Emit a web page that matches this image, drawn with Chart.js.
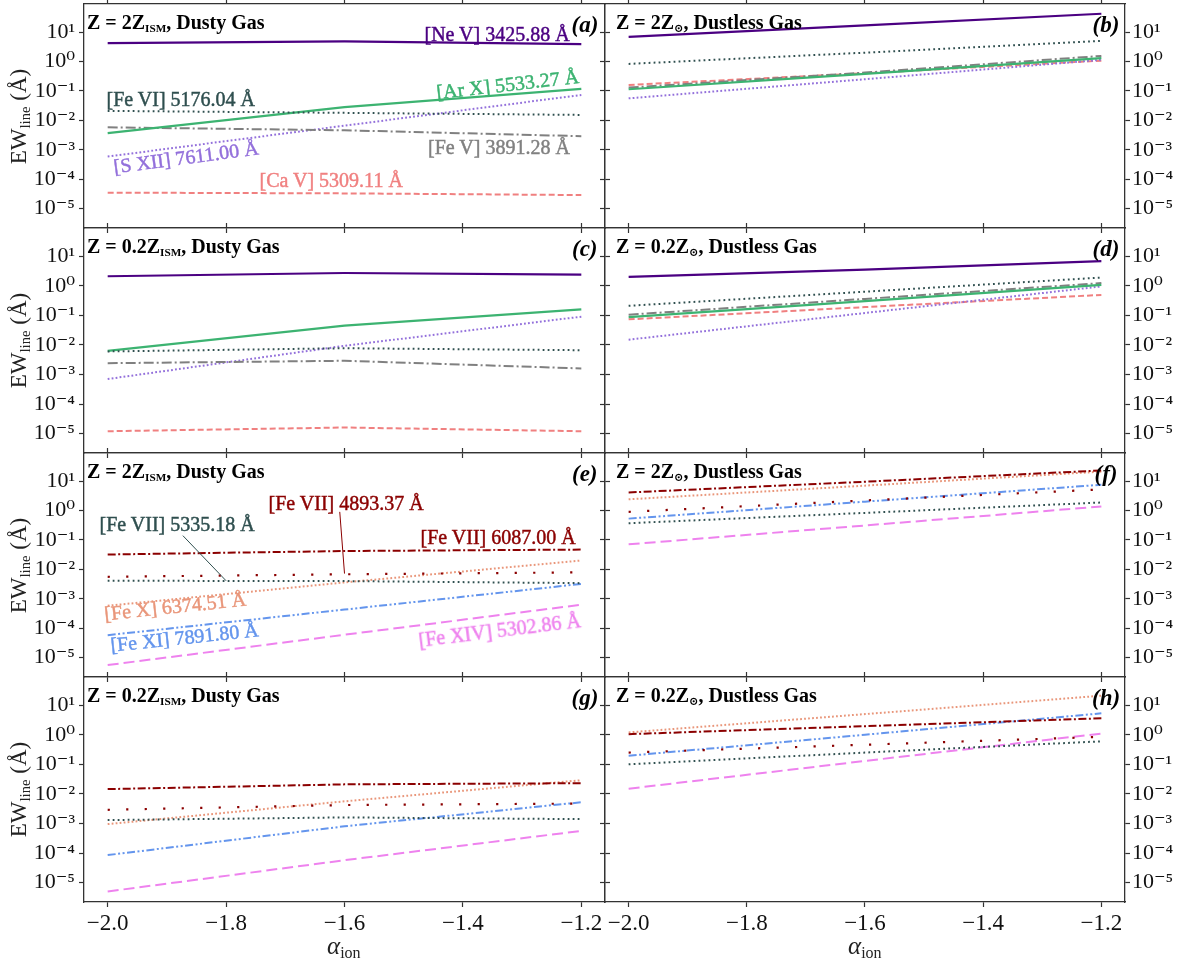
<!DOCTYPE html>
<html><head><meta charset="utf-8">
<script src="https://cdn.jsdelivr.net/npm/chart.js@4.4.1/dist/chart.umd.min.js"></script>
<style>
html,body{margin:0;padding:0;background:#fff;}
#wrap{position:relative;width:1178px;height:960px;overflow:hidden;background:#fff;}
canvas{position:absolute;}
.t{position:absolute;white-space:nowrap;line-height:1;font-family:'Liberation Serif','DejaVu Serif',serif;}
.ttl{font-weight:bold;font-size:20px;color:#000;}
.ttl sub{font-size:56%;}
.lbl{font-size:20px;-webkit-text-stroke:0.45px currentColor;}
.let{font-weight:bold;font-style:italic;font-size:23px;color:#000;}
sub{font-size:64%;vertical-align:-0.25em;line-height:0;}
</style></head><body><div id="wrap"></div>
<script>
// ---------------- data ----------------
const alphaIon = [-2.0, -1.6, -1.2];
const xTickValues = [-2.0, -1.8, -1.6, -1.4, -1.2];
const xTickLabels = ['\u22122.0', '\u22121.8', '\u22121.6', '\u22121.4', '\u22121.2'];
const yTickValues = [1e-5, 1e-4, 1e-3, 1e-2, 1e-1, 1e0, 1e1];
const yTickLabels = ['10\u207B\u2075', '10\u207B\u2074', '10\u207B\u00B3', '10\u207B\u00B2', '10\u207B\u00B9', '10\u2070', '10\u00B9'];

// (a) Z = 2Z_ISM, dusty
const a_NeV  = [4.2, 4.8, 3.9];
const a_FeVI = [0.021, 0.018, 0.0153];
const a_ArX  = [0.0037, 0.028, 0.117];
const a_FeV  = [0.0058, 0.0046, 0.0029];
const a_SXII = [0.00059, 0.0066, 0.073];
const a_CaV  = [3.5e-5, 3.3e-5, 2.9e-5];
// (b) Z = 2Z_sun, dustless
const b_NeV  = [6.9, 17, 42];
const b_FeVI = [0.83, 2.0, 5.0];
const b_ArX  = [0.114, 0.38, 1.3];
const b_FeV  = [0.13, 0.42, 1.55];
const b_SXII = [0.056, 0.25, 1.14];
const b_CaV  = [0.16, 0.40, 1.07];
// (c) Z = 0.2Z_ISM, dusty
const c_NeV  = [2.1, 2.7, 2.4];
const c_FeVI = [0.006, 0.0077, 0.0066];
const c_ArX  = [0.0063, 0.045, 0.16];
const c_FeV  = [0.0024, 0.0029, 0.0016];
const c_SXII = [0.0007, 0.0093, 0.09];
const c_CaV  = [1.2e-5, 1.6e-5, 1.2e-5];
// (d) Z = 0.2Z_sun, dustless
const d_NeV  = [2.0, 3.5, 6.8];
const d_FeVI = [0.21, 0.63, 1.9];
const d_ArX  = [0.087, 0.30, 1.08];
const d_FeV  = [0.105, 0.36, 1.23];
const d_SXII = [0.015, 0.12, 0.95];
const d_CaV  = [0.073, 0.19, 0.49];
// (e) Z = 2Z_ISM, dusty
const e_FeVII6087 = [0.032, 0.042, 0.047];
const e_FeVII4893 = [0.0056, 0.0068, 0.0079];
const e_FeVII5335 = [0.0041, 0.0040, 0.0034];
const e_FeX  = [0.00058, 0.0036, 0.020];
const e_FeXI = [5.8e-5, 4.3e-4, 0.0032];
const e_FeXIV = [5.6e-6, 6.0e-5, 6.3e-4];
// (f) Z = 2Z_sun, dustless
const f_FeVII6087 = [4.1, 9.5, 23];
const f_FeVII4893 = [0.9, 2.2, 5.2];
const f_FeVII5335 = [0.37, 0.83, 1.87];
const f_FeX  = [2.4, 7.0, 21];
const f_FeXI = [0.53, 2.0, 7.5];
const f_FeXIV = [0.071, 0.31, 1.37];
// (g) Z = 0.2Z_ISM, dusty
const g_FeVII6087 = [0.0145, 0.021, 0.023];
const g_FeVII4893 = [0.0029, 0.0042, 0.0047];
const g_FeVII5335 = [0.0013, 0.0016, 0.0014];
const g_FeX  = [0.00095, 0.0056, 0.029];
const g_FeXI = [8.5e-5, 8.0e-4, 0.0052];
const g_FeXIV = [5.0e-6, 5.7e-5, 5.6e-4];
// (h) Z = 0.2Z_sun, dustless
const h_FeVII6087 = [1.05, 1.95, 3.6];
const h_FeVII4893 = [0.25, 0.46, 0.85];
const h_FeVII5335 = [0.10, 0.25, 0.60];
const h_FeX  = [1.2, 5.0, 21];
const h_FeXI = [0.195, 1.0, 5.3];
const h_FeXIV = [0.015, 0.13, 1.1];

// ---------------- styles ----------------
const STY = {
  NeV:  {color:'#4B0082', width:2.2, dash:[]},
  FeVI: {color:'#2F4F4F', width:2, dash:[1.8, 3.2]},
  ArX:  {color:'#3CB371', width:2.2, dash:[]},
  FeV:  {color:'#808080', width:2, dash:[10, 3, 2, 3]},
  SXII: {color:'#9370DB', width:2, dash:[1.8, 2.2]},
  CaV:  {color:'#F08080', width:2, dash:[6, 3]},
  FeVII6087: {color:'#8B0000', width:2, dash:[8, 2.5, 2, 2.5]},
  FeVII4893: {color:'#8B0000', width:2.2, dash:[2.2, 16.3]},
  FeVII5335: {color:'#2F4F4F', width:2, dash:[1.8, 3.2]},
  FeX:  {color:'#E9967A', width:2, dash:[1.8, 2.2]},
  FeXI: {color:'#6495ED', width:2, dash:[8, 2.5, 2, 2.5, 2, 2.5]},
  FeXIV:{color:'#EE82EE', width:2, dash:[11, 5]}
};

const panels = [
  {id:'a', col:0, row:0, series:{NeV:a_NeV, FeVI:a_FeVI, ArX:a_ArX, FeV:a_FeV, SXII:a_SXII, CaV:a_CaV}},
  {id:'b', col:1, row:0, series:{NeV:b_NeV, FeVI:b_FeVI, ArX:b_ArX, FeV:b_FeV, SXII:b_SXII, CaV:b_CaV}},
  {id:'c', col:0, row:1, series:{NeV:c_NeV, FeVI:c_FeVI, ArX:c_ArX, FeV:c_FeV, SXII:c_SXII, CaV:c_CaV}},
  {id:'d', col:1, row:1, series:{NeV:d_NeV, FeVI:d_FeVI, ArX:d_ArX, FeV:d_FeV, SXII:d_SXII, CaV:d_CaV}},
  {id:'e', col:0, row:2, series:{FeVII6087:e_FeVII6087, FeVII4893:e_FeVII4893, FeVII5335:e_FeVII5335, FeX:e_FeX, FeXI:e_FeXI, FeXIV:e_FeXIV},
     annots:[{x0:-1.873, y0:0.14, x1:-1.80, y1:0.0041, color:'#2F4F4F'}, {x0:-1.608, y0:0.9, x1:-1.60, y1:0.0072, color:'#8B0000'}]},
  {id:'f', col:1, row:2, series:{FeVII6087:f_FeVII6087, FeVII4893:f_FeVII4893, FeVII5335:f_FeVII5335, FeX:f_FeX, FeXI:f_FeXI, FeXIV:f_FeXIV}},
  {id:'g', col:0, row:3, series:{FeVII6087:g_FeVII6087, FeVII4893:g_FeVII4893, FeVII5335:g_FeVII5335, FeX:g_FeX, FeXI:g_FeXI, FeXIV:g_FeXIV}},
  {id:'h', col:1, row:3, series:{FeVII6087:h_FeVII6087, FeVII4893:h_FeVII4893, FeVII5335:h_FeVII5335, FeX:h_FeX, FeXI:h_FeXI, FeXIV:h_FeXIV}}
];

// ---------------- layout ----------------
const colX = [84, 605];         // panel left edges
const colW = [521, 520];
const rowY = [4, 228, 453, 677];
const rowH = [224, 225, 224, 225];
const YMIN = 2.2e-6, YMAX = 90;
const XMIN = -2.04, XMAX = -1.16;
const FONT = "'Liberation Serif','DejaVu Serif',serif";
const AX = '#333333';
const TICK = 5;

const wrap = document.getElementById('wrap');

const annotPlugin = {
  id: 'annot',
  afterDatasetsDraw(chart, args, opts) {
    const list = opts.lines || [];
    const ctx = chart.ctx, xs = chart.scales.x, ys = chart.scales.y;
    ctx.save();
    list.forEach(l => {
      ctx.beginPath();
      ctx.strokeStyle = l.color; ctx.lineWidth = 1; ctx.setLineDash([]);
      ctx.moveTo(xs.getPixelForValue(l.x0), ys.getPixelForValue(l.y0));
      ctx.lineTo(xs.getPixelForValue(l.x1), ys.getPixelForValue(l.y1));
      ctx.stroke();
    });
    ctx.restore();
  }
};

function fixSize(size, horiz) {
  return function(s) {
    if (horiz) { s.height = size; s.paddingLeft = 0; s.paddingRight = 0; }
    else { s.width = size; s.paddingTop = 0; s.paddingBottom = 0; }
  };
}

panels.forEach(p => {
  const isLeft = p.col === 0, isBottom = p.row === 3;
  const leftW = isLeft ? 84 : 6;
  const rightW = isLeft ? 6 : 53;
  const topH = 6;
  const botH = isBottom ? 50 : 6;
  const cw = leftW + colW[p.col] + rightW;
  const ch = topH + rowH[p.row] + botH;
  const cv = document.createElement('canvas');
  cv.width = cw; cv.height = ch;
  cv.style.left = (colX[p.col] - leftW) + 'px';
  cv.style.top = (rowY[p.row] - topH) + 'px';
  cv.style.width = cw + 'px'; cv.style.height = ch + 'px';
  wrap.appendChild(cv);

  const datasets = Object.keys(p.series).map(k => ({
    label: k,
    data: alphaIon.map((x, i) => ({x: x, y: p.series[k][i]})),
    borderColor: STY[k].color,
    borderWidth: STY[k].width,
    borderDash: STY[k].dash,
    borderCapStyle: 'butt',
    pointRadius: 0,
    fill: false,
    tension: 0,
    xAxisID: 'x', yAxisID: 'y'
  }));

  const gridCfg = {drawOnChartArea:false, drawTicks:true, tickLength:TICK, color:AX, tickColor:AX, tickWidth:1.2};
  const borderCfg = {display:true, color:AX, width:1.3};
  const xticks = s => { s.ticks = xTickValues.map(v => ({value:v})); };
  const yticks = s => { s.ticks = yTickValues.map(v => ({value:v})); };

  new Chart(cv, {
    type: 'line',
    data: {datasets},
    plugins: [annotPlugin],
    options: {
      responsive: false, maintainAspectRatio: false, animation: false,
      devicePixelRatio: 1,
      layout: {padding: 0},
      plugins: {legend:{display:false}, tooltip:{enabled:false}, title:{display:false},
                annot: {lines: p.annots || []}},
      scales: {
        x: {type:'linear', position:'bottom', min:XMIN, max:XMAX,
            afterBuildTicks: xticks,
            ticks: {display:isBottom, autoSkip:false, maxRotation:0, padding:3, color:'#111',
                    font:{family:FONT, size:23},
                    callback: v => { const i = xTickValues.findIndex(t => Math.abs(t - v) < 1e-9); return i >= 0 ? xTickLabels[i] : ''; }},
            grid: gridCfg, border: borderCfg, afterFit: fixSize(botH, true)},
        xTop: {type:'linear', position:'top', min:XMIN, max:XMAX,
            afterBuildTicks: xticks,
            ticks: {display:false}, grid: gridCfg, border: borderCfg, afterFit: fixSize(topH, true)},
        y: {type:'logarithmic', position:'left', min:YMIN, max:YMAX,
            afterBuildTicks: yticks,
            ticks: {display:isLeft, autoSkip:false, padding:4, color:'#111',
                    font:{family:FONT, size:22},
                    callback: v => { const i = yTickValues.findIndex(t => Math.abs(Math.log10(t) - Math.log10(v)) < 1e-6); return i >= 0 ? yTickLabels[i] : ''; }},
            grid: gridCfg, border: borderCfg, afterFit: fixSize(leftW, false)},
        yRight: {type:'logarithmic', position:'right', min:YMIN, max:YMAX,
            afterBuildTicks: yticks,
            ticks: {display:!isLeft, autoSkip:false, padding:2, color:'#111',
                    font:{family:FONT, size:22},
                    callback: v => { const i = yTickValues.findIndex(t => Math.abs(Math.log10(t) - Math.log10(v)) < 1e-6); return i >= 0 ? yTickLabels[i] : ''; }},
            grid: gridCfg, border: borderCfg, afterFit: fixSize(rightW, false)}
      }
    }
  });
});

// ---------------- text overlays ----------------
function txt(html, cls, cx, cy, opts) {
  opts = opts || {};
  const d = document.createElement('div');
  d.className = 't ' + cls;
  d.innerHTML = html;
  if (opts.color) d.style.color = opts.color;
  if (opts.size) d.style.fontSize = opts.size + 'px';
  d.style.zIndex = 5;
  wrap.appendChild(d);
  const w = d.offsetWidth, h = d.offsetHeight;
  let x = opts.left !== undefined ? opts.left : cx - w / 2;
  d.style.left = x + 'px';
  d.style.top = (cy - h / 2) + 'px';
  if (opts.rot) { d.style.transform = 'rotate(' + opts.rot + 'deg)'; }
}

const titlesL = ['Z = 2Z<sub>ISM</sub>, Dusty Gas', 'Z = 0.2Z<sub>ISM</sub>, Dusty Gas'];
const titlesR = ['Z = 2Z<sub>\u2299</sub>, Dustless Gas', 'Z = 0.2Z<sub>\u2299</sub>, Dustless Gas'];
const letters = ['a','b','c','d','e','f','g','h'];
for (let r = 0; r < 4; r++) {
  txt(titlesL[r % 2], 'ttl', 0, rowY[r] + 18, {left: 87});
  txt(titlesR[r % 2], 'ttl', 0, rowY[r] + 18, {left: 616});
  txt('(' + letters[2*r] + ')', 'let', 585, rowY[r] + 20);
  txt('(' + letters[2*r+1] + ')', 'let', 1106, rowY[r] + 20);
  txt('EW<sub>line</sub> (\u00C5)', 'yt', 19, rowY[r] + 112, {size: 23, rot: -90, color:'#222'});
}
txt('<i>\u03B1</i><sub>ion</sub>', 'xt', 344, 945, {size: 25, color:'#222'});
txt('<i>\u03B1</i><sub>ion</sub>', 'xt', 865, 945, {size: 25, color:'#222'});

// line labels, panel (a)
txt('[Ne V] 3425.88 \u00C5', 'lbl', 497, 34, {color:'#4B0082'});
txt('[Ar X] 5533.27 \u00C5', 'lbl', 507, 84, {color:'#3CB371', rot:-6.5});
txt('[Fe VI] 5176.04 \u00C5', 'lbl', 181, 99, {color:'#2F4F4F'});
txt('[S XII] 7611.00 \u00C5', 'lbl', 186, 157, {color:'#9370DB', rot:-7.5});
txt('[Fe V] 3891.28 \u00C5', 'lbl', 499, 147, {color:'#808080'});
txt('[Ca V] 5309.11 \u00C5', 'lbl', 331, 180, {color:'#F08080'});
// line labels, panel (e)
txt('[Fe VII] 4893.37 \u00C5', 'lbl', 346, 503, {color:'#8B0000'});
txt('[Fe VII] 5335.18 \u00C5', 'lbl', 177, 524, {color:'#2F4F4F'});
txt('[Fe VII] 6087.00 \u00C5', 'lbl', 498, 537, {color:'#8B0000'});
txt('[Fe X] 6374.51 \u00C5', 'lbl', 175, 606, {color:'#E9967A', rot:-6});
txt('[Fe XI] 7891.80 \u00C5', 'lbl', 184, 637, {color:'#6495ED', rot:-6});
txt('[Fe XIV] 5302.86 \u00C5', 'lbl', 499, 630, {color:'#EE82EE', rot:-7});
</script>
</body></html>
